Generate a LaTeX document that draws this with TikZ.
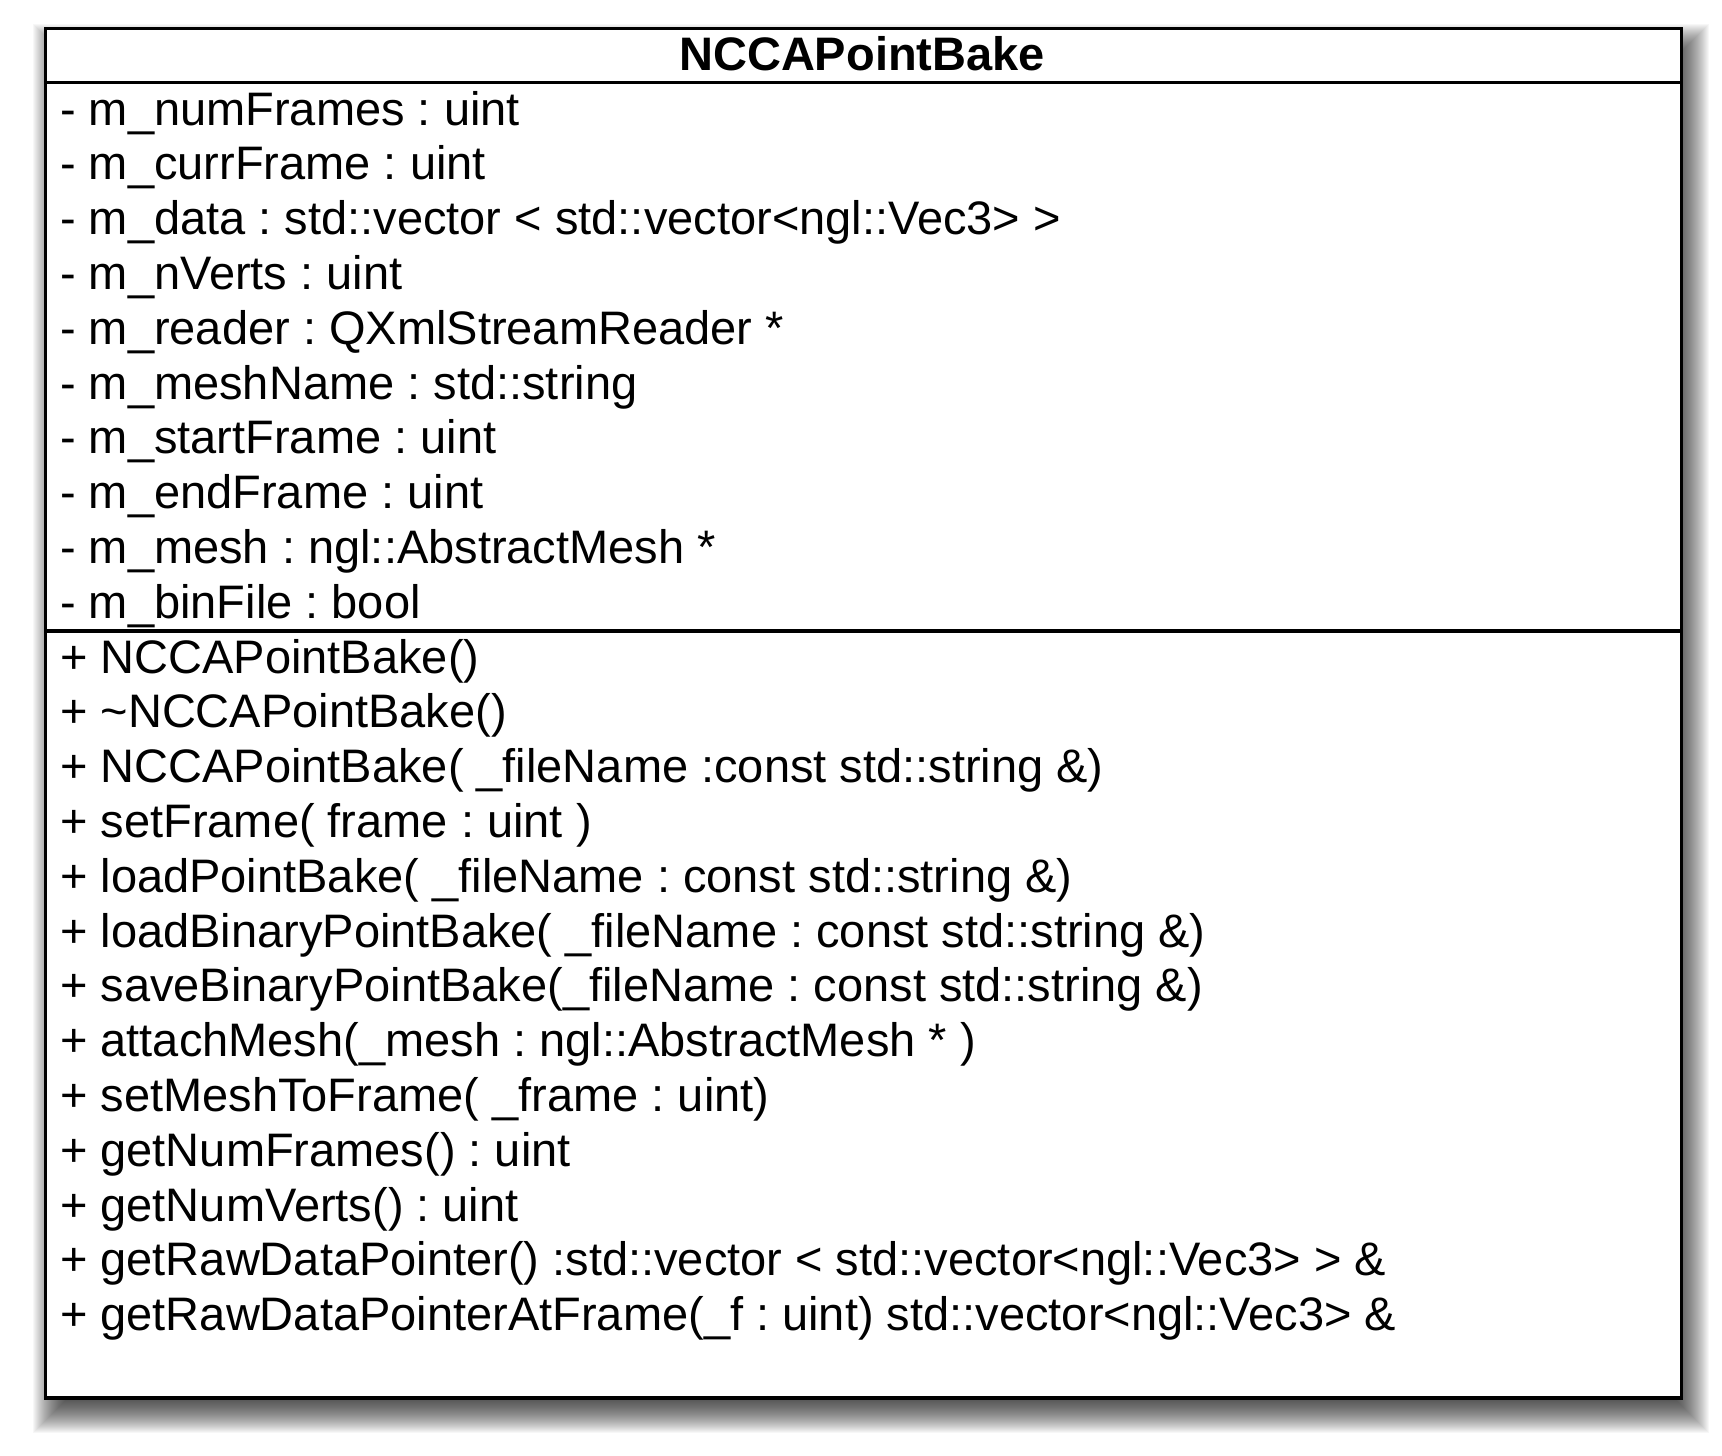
\documentclass[tikz,border=0pt]{standalone}
\usepackage{fontspec}
\setmainfont{Liberation Sans}
\begin{document}
\frenchspacing
\begin{tikzpicture}[x=1pt,y=-1pt,
  member/.style={anchor=base west,inner sep=0pt,font=\fontsize{47}{52}\selectfont},
  classname/.style={anchor=base,inner sep=0pt,font=\bfseries\fontsize{47}{52}\selectfont},
  frame/.style={draw=black,line width=3.8pt},
  sep/.style={draw=black,line width=3.8pt}]
\useasboundingbox (0,0) rectangle (1722,1456);
% soft shadow (offset 7,15; blurred by stacked translucent rectangles)
\foreach \k in {-20,...,20}{
  \fill[black,opacity=0.03] (52.5-\k,43.5-\k) rectangle (1688.5+\k,1413+\k);
}
\fill[white] (45.5,28.5) rectangle (1681.5,1398);
\draw[frame] (45.5,28.5) rectangle (1681.5,1398);
\coordinate (s1l) at (45.5,82.5);
\coordinate (s1r) at (1681.5,82.5);
\coordinate (s2l) at (45.5,631);
\coordinate (s2r) at (1681.5,631);
\draw[sep] (s1l) -- (s1r);
\draw[sep] (s2l) -- (s2r);
\node[classname] (title) at (862,70.5) {NCCAPointBake};
\def\bx{60}
\node[member] (a1) at (\bx,125) {- m\_numFrames : uint};
\node[member] (a2) at (\bx,179.8) {- m\_currFrame : uint};
\node[member] (a3) at (\bx,234.6) {- m\_data : std::vector < std::vector<ngl::Vec3> >};
\node[member] (a4) at (\bx,289.4) {- m\_nVerts : uint};
\node[member] (a5) at (\bx,344.2) {- m\_reader : QXmlStreamReader *};
\node[member] (a6) at (\bx,399) {- m\_meshName : std::string};
\node[member] (a7) at (\bx,453.8) {- m\_startFrame : uint};
\node[member] (a8) at (\bx,508.6) {- m\_endFrame : uint};
\node[member] (a9) at (\bx,563.4) {- m\_mesh : ngl::AbstractMesh *};
\node[member] (a10) at (\bx,618.2) {- m\_binFile : bool};
\node[member] (m1) at (\bx,673) {+ NCCAPointBake()};
\node[member] (m2) at (\bx,727.8) {+ \textasciitilde NCCAPointBake()};
\node[member] (m3) at (\bx,782.6) {+ NCCAPointBake( \_fileName :const std::string \&)};
\node[member] (m4) at (\bx,837.4) {+ setFrame( frame : uint )};
\node[member] (m5) at (\bx,892.2) {+ loadPointBake( \_fileName : const std::string \&)};
\node[member] (m6) at (\bx,947) {+ loadBinaryPointBake( \_fileName : const std::string \&)};
\node[member] (m7) at (\bx,1001.8) {+ saveBinaryPointBake(\_fileName : const std::string \&)};
\node[member] (m8) at (\bx,1056.6) {+ attachMesh(\_mesh : ngl::AbstractMesh * )};
\node[member] (m9) at (\bx,1111.4) {+ setMeshToFrame( \_frame : uint)};
\node[member] (m10) at (\bx,1166.2) {+ getNumFrames() : uint};
\node[member] (m11) at (\bx,1221) {+ getNumVerts() : uint};
\node[member] (m12) at (\bx,1275.8) {+ getRawDataPointer() :std::vector < std::vector<ngl::Vec3> > \&};
\node[member] (m13) at (\bx,1330.6) {+ getRawDataPointerAtFrame(\_f : uint) std::vector<ngl::Vec3> \&};
\end{tikzpicture}
\end{document}
